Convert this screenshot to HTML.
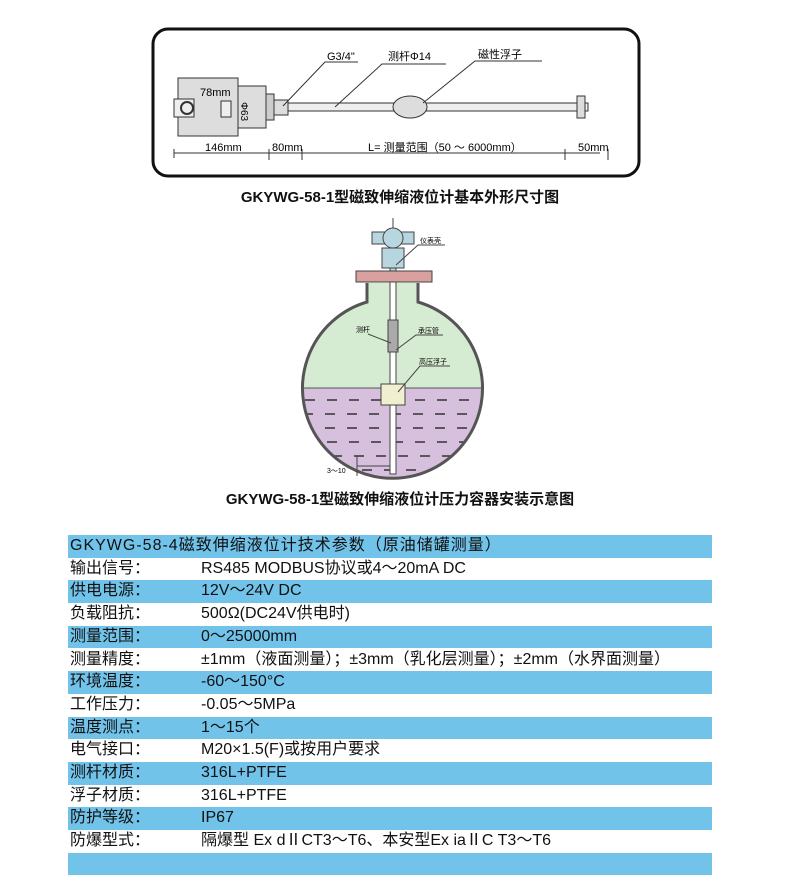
<!DOCTYPE html>
<html><head><meta charset="utf-8"><style>
body{margin:0;background:#fff;width:800px;height:895px;position:relative;overflow:hidden;font-family:"Liberation Sans","Noto Sans CJK SC",sans-serif}
.t{position:absolute;left:0;width:800px;text-align:center;font-weight:bold;font-size:15px;color:#111}
.row{position:absolute;left:68px;width:644px;height:22.7px;font-size:16px;color:#111;line-height:22px}
.row.b{background:#72c3ea}
.row span{position:absolute;left:2px}
.row i{font-style:normal;position:absolute;left:133px;white-space:nowrap}
</style></head><body>
<svg width="800" height="520" style="position:absolute;left:0;top:0" font-family="Liberation Sans, Noto Sans CJK SC, sans-serif">
<rect x="153" y="29" width="486" height="147" rx="15" fill="none" stroke="#111" stroke-width="3"/>
<rect x="178" y="78" width="60" height="58" fill="#ddd" stroke="#333"/>
<rect x="174" y="99" width="20" height="18" fill="#eee" stroke="#333"/>
<circle cx="187" cy="108" r="6" fill="none" stroke="#333" stroke-width="2"/>
<rect x="221" y="101" width="10" height="16" fill="#eee" stroke="#333"/>
<rect x="238" y="86" width="28" height="42" fill="#ddd" stroke="#333"/>
<rect x="266" y="94" width="8" height="26" fill="#ccc" stroke="#333"/>
<rect x="274" y="100" width="14" height="15" fill="#ddd" stroke="#333"/>
<rect x="288" y="103" width="300" height="8" fill="#eee" stroke="#333"/>
<ellipse cx="410" cy="107" rx="17" ry="11" fill="#ddd" stroke="#333"/>
<rect x="577" y="96" width="8" height="22" fill="#ddd" stroke="#333"/>
<text x="200" y="96" font-size="11">78mm</text>
<text x="251" y="112" font-size="10" transform="rotate(90 251 102)">Φ63</text>
<g stroke="#333" fill="none"><path d="M283 106L325 62H358"/><path d="M335 107L382 64H446"/><path d="M423 103L475 61H542"/>
<path d="M174 149V158M269 149V160M302 149V160M565 149V160M608 149V160"/><path d="M174 153H600"/></g>
<text x="327" y="60" font-size="11">G3/4"</text>
<text x="388" y="60" font-size="11">测杆Φ14</text>
<text x="478" y="58" font-size="11">磁性浮子</text>
<text x="205" y="151" font-size="11">146mm</text>
<text x="272" y="151" font-size="11">80mm</text>
<text x="368" y="151" font-size="11">L= 测量范围（50 ～ 6000mm）</text>
<text x="578" y="151" font-size="11">50mm</text>
<defs><clipPath id="c"><path d="M367 283H418V302A90 90 0 1 1 367 302Z"/></clipPath></defs>
<g clip-path="url(#c)"><rect x="290" y="270" width="220" height="118" fill="#d6ecd2"/><rect x="290" y="388" width="220" height="100" fill="#d7c0dd"/>
<g stroke="#333" stroke-width="1.5" stroke-dasharray="10 12"><path d="M305 400H485M303 414H485M303 428H485M305 442H483M310 456H478M318 470H470"/></g></g>
<path d="M367 283V302A90 90 0 1 0 418 302V283" fill="none" stroke="#555" stroke-width="3"/>
<path d="M304 388H482" stroke="#555"/>
<rect x="356" y="271" width="76" height="11" fill="#d9a0a0" stroke="#444"/>
<rect x="372" y="232" width="42" height="12" fill="#b8d6e0" stroke="#444"/>
<circle cx="393" cy="238" r="10" fill="#b8d6e0" stroke="#444"/>
<rect x="382" y="248" width="22" height="20" fill="#b8d6e0" stroke="#444"/>
<rect x="390" y="268" width="6" height="3" fill="#b8d6e0" stroke="#444"/>
<path d="M393 218V228" stroke="#444"/>
<rect x="390" y="282" width="6" height="192" fill="#fff" stroke="#444"/>
<rect x="388" y="320" width="10" height="32" fill="#aaa" stroke="#444"/>
<rect x="381" y="384" width="24" height="21" fill="#f0efd0" stroke="#444"/>
<g stroke="#444" fill="none"><path d="M396 265L418 245H445"/><path d="M368 334L391 343"/><path d="M396 350L416 335H443"/><path d="M398 392L420 366H450"/><path d="M357 456V476M357 466H390"/></g>
<g font-size="7"><text x="420" y="243">仪表壳</text><text x="356" y="332">测杆</text><text x="418" y="333">承压管</text><text x="419" y="364">高压浮子</text><text x="327" y="473">3～10</text></g>
</svg>
<div class="t" style="top:186px">GKYWG-58-1型磁致伸缩液位计基本外形尺寸图</div>
<div class="t" style="top:488px">GKYWG-58-1型磁致伸缩液位计压力容器安装示意图</div>
<div class="row b" style="top:535px"><span style="letter-spacing:1px">GKYWG-58-4磁致伸缩液位计技术参数（原油储罐测量）</span></div>
<div class="row" style="top:557.7px"><span>输出信号：</span><i>RS485 MODBUS协议或4～20mA DC</i></div>
<div class="row b" style="top:580.4px"><span>供电电源：</span><i>12V～24V DC</i></div>
<div class="row" style="top:603.1px"><span>负载阻抗：</span><i>500Ω(DC24V供电时)</i></div>
<div class="row b" style="top:625.8px"><span>测量范围：</span><i>0～25000mm</i></div>
<div class="row" style="top:648.5px"><span>测量精度：</span><i>±1mm（液面测量）；±3mm（乳化层测量）；±2mm（水界面测量）</i></div>
<div class="row b" style="top:671.2px"><span>环境温度：</span><i>-60～150°C</i></div>
<div class="row" style="top:693.9px"><span>工作压力：</span><i>-0.05～5MPa</i></div>
<div class="row b" style="top:716.6px"><span>温度测点：</span><i>1～15个</i></div>
<div class="row" style="top:739.3px"><span>电气接口：</span><i>M20×1.5(F)或按用户要求</i></div>
<div class="row b" style="top:762px"><span>测杆材质：</span><i>316L+PTFE</i></div>
<div class="row" style="top:784.7px"><span>浮子材质：</span><i>316L+PTFE</i></div>
<div class="row b" style="top:807.4px"><span>防护等级：</span><i>IP67</i></div>
<div class="row" style="top:830.1px"><span>防爆型式：</span><i>隔爆型 Ex dⅡCT3～T6、本安型Ex iaⅡC T3～T6</i></div>
<div class="row b" style="top:852.8px"></div>
</body></html>
